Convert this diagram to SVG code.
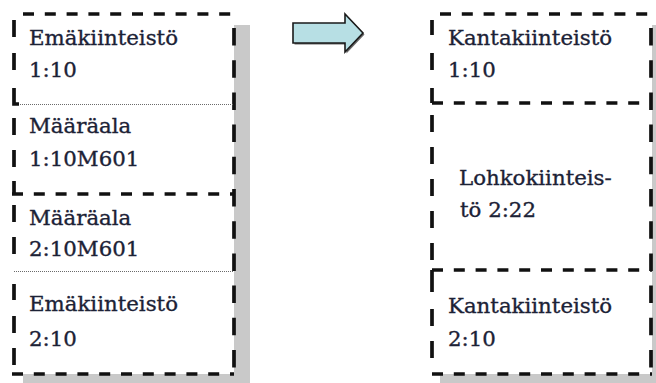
<svg xmlns="http://www.w3.org/2000/svg" width="656" height="383" viewBox="0 0 656 383">
  <style>
    .shadow { fill: #c9c9c9; }
    .box { fill: #ffffff; }
    .dh { stroke: #111111; stroke-width: 3.7; fill: none; stroke-dasharray: 11 10.8; }
    .dv { stroke: #111111; stroke-width: 3.7; fill: none; stroke-dasharray: 17.5 14.7; }
    .seg { stroke: #111111; stroke-width: 3.7; fill: none; }
    .dot { stroke: #6a6a6a; stroke-width: 1; fill: none; stroke-dasharray: 1 1; }
    .lbl { font-family: "DejaVu Serif", "Liberation Serif", serif; font-size: 21.3px; fill: #1c2236; stroke: #1c2236; stroke-width: 0.35; }
    .arrow { fill: #b7dfe4; stroke: #1a1a1a; stroke-width: 1.6; stroke-linejoin: miter; }
    .arrow-shadow { fill: #6b6b6b; }
  </style>

  <!-- left column: parent parcels and their split parts -->
  <g id="left-column">
    <rect class="shadow" x="23" y="25" width="227" height="360"/>
    <rect class="box" x="14" y="14" width="220" height="360"/>
    <!-- outer horizontal edges -->
    <line class="dh" x1="14" y1="14" x2="234" y2="14" stroke-dashoffset="12.8"/>
    <line class="dh" x1="12" y1="194" x2="234" y2="194"/>
    <line class="dh" x1="12" y1="374" x2="234" y2="374"/>
    <!-- right edge -->
    <line class="dv" x1="234" y1="14" x2="234" y2="374" stroke-dashoffset="18.2"/>
    <!-- thin dotted separators -->
    <line class="dot" x1="14" y1="104.5" x2="234" y2="104.5"/>
    <line class="dot" x1="14" y1="271.5" x2="234" y2="271.5"/>
  </g>

  <g id="emakiinteisto-1">
    <path class="seg" d="M14,20 V37 M14,53 V70 M14,88 V104 H19"/>
    <text class="lbl" x="29" y="45">Emäkiinteistö</text>
    <text class="lbl" x="29" y="77">1:10</text>
  </g>

  <g id="maaraala-1">
    <path class="seg" d="M14,118 V135 M14,150 V167 M14,181 V194"/>
    <text class="lbl" x="29" y="133">Määräala</text>
    <text class="lbl" x="29" y="166">1:10M601</text>
  </g>

  <g id="maaraala-2">
    <path class="seg" d="M14,205 V222 M14,237 V254"/>
    <text class="lbl" x="29" y="225">Määräala</text>
    <text class="lbl" x="29" y="256">2:10M601</text>
  </g>

  <g id="emakiinteisto-2">
    <path class="seg" d="M14,284 V300 M14,316 V333 M14,348 V365"/>
    <text class="lbl" x="29" y="311">Emäkiinteistö</text>
    <text class="lbl" x="29" y="346">2:10</text>
  </g>

  <!-- right column: remaining parcels and the new parcel -->
  <g id="right-column">
    <rect class="shadow" x="440" y="25" width="230" height="360"/>
    <rect class="box" x="432" y="14" width="220" height="360"/>
    <line class="dh" x1="432" y1="14" x2="652" y2="14" stroke-dashoffset="13.8"/>
    <line class="dh" x1="432" y1="103" x2="652" y2="103"/>
    <line class="dh" x1="432" y1="270" x2="652" y2="270"/>
    <line class="dh" x1="432" y1="374" x2="652" y2="374"/>
    <line class="dv" x1="651" y1="14" x2="651" y2="374" stroke-dashoffset="18.2"/>
  </g>

  <g id="kantakiinteisto-1">
    <path class="seg" d="M432,20 V35 M432,53 V70 M432,88 V103"/>
    <text class="lbl" x="448" y="45">Kantakiinteistö</text>
    <text class="lbl" x="448" y="77">1:10</text>
  </g>

  <g id="lohkokiinteisto">
    <path class="seg" d="M432,115 V132 M432,147 V164 M432,179 V196 M432,211 V228 M432,243 V260"/>
    <text class="lbl" x="459" y="185">Lohkokiinteis-</text>
    <text class="lbl" x="460" y="217">tö 2:22</text>
  </g>

  <g id="kantakiinteisto-2">
    <path class="seg" d="M432,270 V292 M432,309 V326 M432,341 V358"/>
    <text class="lbl" x="448" y="313">Kantakiinteistö</text>
    <text class="lbl" x="448" y="346">2:10</text>
  </g>

  <!-- block arrow between the two columns -->
  <g id="connectors">
    <path class="arrow-shadow" d="M294.5,24.5 H346.5 V15.5 L364.5,34.5 L346.5,53.5 V44.5 H294.5 Z"/>
    <path class="arrow" d="M293,23 H345 V14 L363,33 L345,52 V43 H293 Z"/>
  </g>
</svg>
